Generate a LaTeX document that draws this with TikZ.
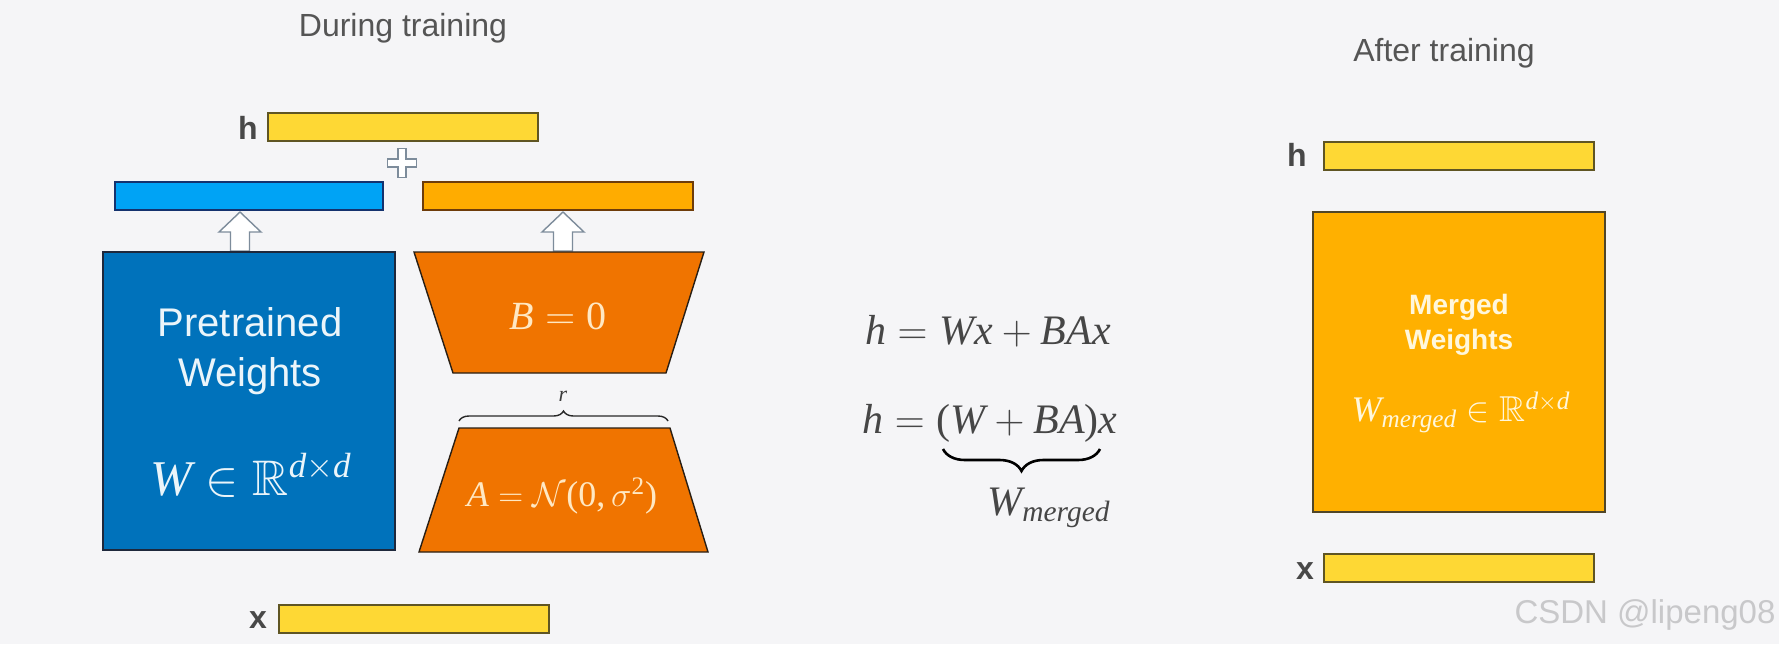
\documentclass[tikz,border=0pt]{standalone}
\usepackage{amsmath}
\usepackage{amssymb}
\usepackage{fontspec}
\setmainfont{Liberation Sans}
\newfontfamily\tms{Liberation Serif}
\newcommand{\mvar}[1]{\text{\tms\itshape #1}}
\newcommand{\mrom}[1]{\text{\tms #1}}
\usetikzlibrary{decorations.pathreplacing}
\definecolor{bg}{RGB}{245,245,247}
\definecolor{ybarc}{RGB}{254,216,52}
\definecolor{ybard}{RGB}{95,85,35}
\definecolor{bbarc}{RGB}{0,163,245}
\definecolor{bbard}{RGB}{20,50,110}
\definecolor{obarc}{RGB}{255,172,0}
\definecolor{obard}{RGB}{110,60,10}
\definecolor{bboxc}{RGB}{0,114,187}
\definecolor{trapc}{RGB}{240,116,0}
\definecolor{mboxc}{RGB}{255,176,0}
\definecolor{txtgray}{RGB}{85,85,85}
\definecolor{lblgray}{RGB}{72,72,72}
\definecolor{arrgray}{RGB}{125,140,155}
\begin{document}
\begin{tikzpicture}[x=0.5pt,y=-0.5pt,
  barbase/.style={inner sep=0pt, outer sep=0pt, minimum width=135pt, minimum height=14pt, line width=0.7pt},
  ybar/.style={barbase, fill=ybarc, draw=ybard},
  bbar/.style={barbase, minimum width=134pt, fill=bbarc, draw=bbard},
  obar/.style={barbase, fill=obarc, draw=obard},
  title/.style={font=\fontsize{16}{19}\selectfont, text=txtgray},
  lbl/.style={font=\bfseries\fontsize{16}{19}\selectfont, text=lblgray},
  hollow/.style={fill=white, draw=arrgray, line width=0.7pt, line join=miter},
  trap/.style={fill=trapc, draw={rgb,255:red,40;green,30;blue,20}, line width=0.7pt},
  eq/.style={font=\fontsize{21}{25}\selectfont, text={rgb,255:red,70;green,70;blue,70}},
]
\path[use as bounding box, fill=bg] (0,0) rectangle (1779,644);

% ---------------- During training ----------------
\node[title] (t1) at (403,28) {During training};
\node[ybar] (h1) at (403,127) {};
\node[lbl] (hl1) at (248,128) {h};

\draw[hollow] (398,148.5) -- (406,148.5) -- (406,159) -- (416.5,159) -- (416.5,167)
  -- (406,167) -- (406,177.5) -- (398,177.5) -- (398,167) -- (387.5,167)
  -- (387.5,159) -- (398,159) -- cycle;

\node[bbar] (wbar) at (249,196) {};
\node[obar] (babar) at (558,196) {};

\draw[hollow] (230.5,251) -- (230.5,232) -- (219,232) -- (240,212) -- (261,232) -- (249.5,232) -- (249.5,251) -- cycle;
\draw[hollow] (553.5,251) -- (553.5,232) -- (542,232) -- (563,212) -- (584,232) -- (572.5,232) -- (572.5,251) -- cycle;

\node[fill=bboxc, draw={rgb,255:red,30;green,40;blue,60}, line width=0.7pt,
      minimum width=146pt, minimum height=149pt, inner sep=0pt] (W) at (249,401) {};
\node[font=\fontsize{20}{25}\selectfont, text={rgb,255:red,235;green,245;blue,250}, align=center] (wtxt) at (250,351) {Pretrained\\Weights};
\node[font=\fontsize{25}{28}\selectfont, text={rgb,255:red,235;green,245;blue,250}] (wmath) at (251,475) {$\mvar{W} \in \mathbb{R}^{\mvar{d}\times \mvar{d}}$};

\draw[trap] (414,252) -- (704,252) -- (666,373) -- (453,373) -- cycle;
\node[font=\fontsize{20}{23}\selectfont, text={rgb,255:red,255;green,232;blue,195}] (btxt) at (558,316) {$\mvar{B} = \mrom{0}$};

\draw[trap] (459,428) -- (670,428) -- (708,552) -- (419,552) -- cycle;
\node[font=\fontsize{18}{21}\selectfont, text={rgb,255:red,255;green,232;blue,195}] (atxt) at (562,496) {$\mvar{A} = \mathcal{N}\mrom{(0,}\,\sigma^{\mrom{2}}\mrom{)}$};

\coordinate (rl) at (459,421);
\coordinate (rr) at (668,421);
\draw[decorate, decoration={brace, amplitude=5pt}, line width=0.7pt, draw={rgb,255:red,40;green,40;blue,40}] (rl) -- (rr);
\node[font=\fontsize{11}{12}\selectfont, text={rgb,255:red,60;green,60;blue,60}] (r) at (563,396) {$\mvar{r}$};

\node[ybar] (x1) at (414,619) {};
\node[lbl] (xl1) at (258,620) {x};

% ---------------- Middle equations ----------------
\node[eq] (eq1) at (988,331) {$\mvar{h} = \mvar{Wx} + \mvar{BAx}$};
\node[eq] (eq2) at (990,423) {$\mvar{h} = \mrom{(}\mvar{W} + \mvar{BA}\mrom{)}\mvar{x}$};
\coordinate (bl) at (943,449);
\coordinate (br) at (1100,449);
\draw[decorate, decoration={brace, amplitude=11pt}, line width=1.3pt, draw=black] (br) -- (bl);
\node[eq] (wm) at (1049,508) {$\mvar{W}_{\mvar{merged}}$};

% ---------------- After training ----------------
\node[title] (t2) at (1444,53) {After training};
\node[ybar] (h2) at (1459,156) {};
\node[lbl] (hl2) at (1297,155) {h};

\node[fill=mboxc, draw={rgb,255:red,80;green,70;blue,40}, line width=0.7pt,
      minimum width=146pt, minimum height=150pt, inner sep=0pt] (M) at (1459,362) {};
\node[font=\bfseries\fontsize{14}{17.5}\selectfont, text={rgb,255:red,255;green,247;blue,220}, align=center] (mtxt) at (1459,325) {Merged\\Weights};
\node[font=\fontsize{18}{20}\selectfont, text={rgb,255:red,255;green,247;blue,220}] (mmath) at (1461,412) {$\mvar{W}_{\mvar{merged}} \in \mathbb{R}^{\mvar{d}\times \mvar{d}}$};

\node[ybar] (x2) at (1459,568) {};
\node[lbl] (xl2) at (1305,571) {x};

\node[font=\fontsize{16.5}{20}\selectfont, text={rgb,255:red,200;green,200;blue,202}] (wmk) at (1645,615) {CSDN @lipeng08};
\end{tikzpicture}
\end{document}
